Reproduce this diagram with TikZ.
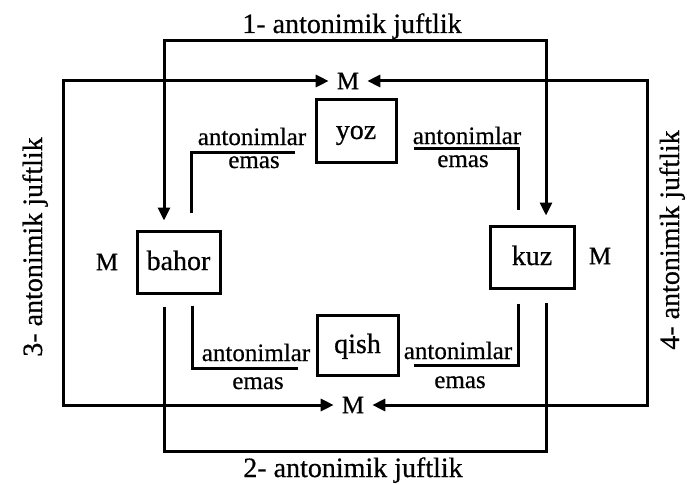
\documentclass[tikz,border=0pt]{standalone}
\usepackage{fontspec}
\setmainfont[FakeBold=0.6]{Liberation Serif}
\usetikzlibrary{arrows.meta}
\begin{document}
\begin{tikzpicture}[x=1pt,y=-1pt,
  season/.style={draw,line width=3pt,inner sep=0pt,text height=22pt,text depth=6pt,
    font=\fontsize{28}{30}\selectfont},
  lbl/.style={font=\fontsize{25}{28}\selectfont,inner sep=0pt,anchor=base},
  ttl/.style={font=\fontsize{28}{30}\selectfont,inner sep=0pt,anchor=base},
  mm/.style={font=\fontsize{25}{26}\selectfont,inner xsep=8pt,inner ysep=0pt},
  conn/.style={line width=3pt},
  arrboth/.style={conn,{Triangle[length=13pt,width=12pt]}-{Triangle[length=13pt,width=12pt]}}
]
\useasboundingbox (0,0) rectangle (687,484);

% season boxes
\node[season,minimum width=80pt,minimum height=62pt] (yoz) at (356,131) {yoz};
\node[season,minimum width=83pt,minimum height=62pt] (bahor) at (178.5,262) {bahor};
\node[season,minimum width=84pt,minimum height=62pt] (kuz) at (532,257) {kuz};
\node[season,minimum width=81pt,minimum height=60pt] (qish) at (357.5,345) {qish};

% M labels
\node[mm] (Mt) at (348,81) {M};
\node[mm] (Mb) at (353,405) {M};
\node[mm] (Ml) at (107,262) {M};
\node[mm] (Mr) at (600,256) {M};

% pair 1 (top)
\coordinate (b1) at ([xshift=-14.5pt,yshift=9pt]bahor.north);
\coordinate (k1) at ([xshift=14pt,yshift=9pt]kuz.north);
\coordinate (top1) at (352,41);
\draw[arrboth] (b1) -- (b1 |- top1) -- (k1 |- top1) -- (k1);
\node[ttl] (t1lbl) at (352,33) {1- antonimik juftlik};

% pair 2 (bottom)
\coordinate (b2) at ([xshift=-14.5pt,yshift=-12pt]bahor.south);
\coordinate (k2) at ([xshift=14pt,yshift=-13pt]kuz.south);
\coordinate (bot2) at (352,451);
\draw[conn] (b2) -- (b2 |- bot2) -- (k2 |- bot2) -- (k2);
\node[ttl] (t2lbl) at (353,477) {2- antonimik juftlik};

% pair 3 (left)
\coordinate (l3) at (63,0);
\draw[arrboth] (Mt.west) -- (Mt.west -| l3) -- (Mb.west -| l3) -- (Mb.west);
\node[ttl,rotate=90] (t3lbl) at (42,247) {3- antonimik juftlik};

% pair 4 (right)
\coordinate (r4) at (647,0);
\draw[arrboth] (Mt.east) -- (Mt.east -| r4) -- (Mb.east -| r4) -- (Mb.east);
\node[ttl,rotate=90] (t4lbl) at (679,240) {4- antonimik juftlik};

% "antonimlar emas" brackets
\coordinate (tl1) at ([xshift=12.5pt,yshift=17pt]bahor.north);
\coordinate (tl2) at ([xshift=-20pt,yshift=-21pt]yoz.west);
\draw[conn] (tl1) |- (tl2);
\coordinate (tr1) at ([xshift=-14pt,yshift=15pt]kuz.north);
\coordinate (tr2) at ([xshift=16pt,yshift=-17pt]yoz.east);
\draw[conn] (tr1) |- (tr2);
\coordinate (bl1) at ([xshift=13.5pt,yshift=-11pt]bahor.south);
\coordinate (bl2) at ([xshift=-18pt,yshift=-23pt]qish.west);
\draw[conn] (bl1) |- (bl2);
\coordinate (br1) at ([xshift=-14pt,yshift=-14pt]kuz.south);
\coordinate (br2) at ([xshift=14pt,yshift=-20pt]qish.east);
\draw[conn] (br1) |- (br2);

\node[lbl] (a1) at (252,145) {antonimlar};
\node[lbl] (e1) at (254,168) {emas};
\node[lbl] (a2) at (467,144) {antonimlar};
\node[lbl] (e2) at (463,167) {emas};
\node[lbl] (a3) at (256,361) {antonimlar};
\node[lbl] (e3) at (258,389) {emas};
\node[lbl] (a4) at (458,359) {antonimlar};
\node[lbl] (e4) at (460,388) {emas};
\end{tikzpicture}
\end{document}
